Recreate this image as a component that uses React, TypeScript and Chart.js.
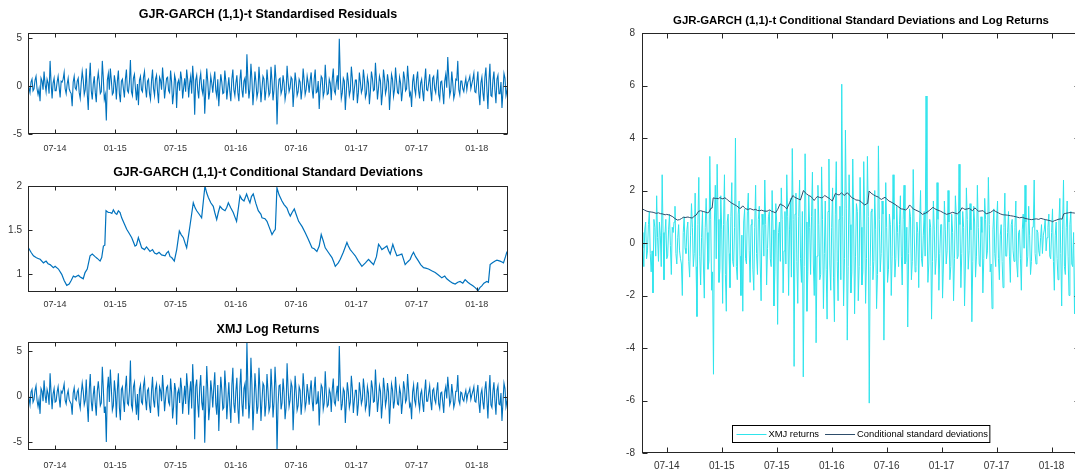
import React, { useEffect, useRef } from 'react';
import { Chart, registerables } from 'chart.js';

Chart.register(...registerables);

const FONT = '"Liberation Sans", Arial, Helvetica, sans-serif';

// time axis: months since Jan 2014; observations every ~2 trading days
const START_MONTH = 3.3;
const STEP_MONTH = 0.1;

const tickMonths = [6, 12, 18, 24, 30, 36, 42, 48];
const tickLabels = ['07-14', '01-15', '07-15', '01-16', '07-16', '01-17', '07-17', '01-18'];

const residualTicks = [-5, 0, 5];
const sigmaTicks = [1, 1.5, 2];
const returnTicks = [-5, 0, 5];
const combinedTicks = [-8, -6, -4, -2, 0, 2, 4, 6, 8];

const residuals = [
  0.3,-0.2, -0.7,0.4, 0.7,-0.5, -0.3,0.6, 1.0,-0.3, -0.9,-0.3, -1.6,0.8, 0.5,-0.4, 1.5,0.2, -0.6,0.7, 0.3,-0.8, 2.6,0.3, -1.3,0.3, 0.8,-0.5, -0.5,0.4, 1.0,-0.1, -1.2,0.5, 0.4,0.7, 1.4,-0.3, -0.8,0.2,
  0.8,-0.3, -0.6,-0.8, -2.1,0.4, 1.0,-0.2, -0.4,0.5, 0.8,-0.7, -1.3,0.3, 1.5,0.6, -0.9,-0.4, 1.8,-0.8, -2.5,0.6, 2.4,-0.5, -1.4,0.2, 1.0,-0.7, -1.7,0.5, 1.4,0.4, -0.8,-0.6, 2.6,0.8, -1.4,-0.9, -3.6,0.6,
  1.3,-0.4, 1.8,0.6, -0.9,-0.7, 1.1,0.3, -1.4,0.5, 1.6,-0.8, -1.7,0.5, 0.7,-0.3, -1.2,0.7, 1.7,-0.5, -0.7,0.4, 2.7,-0.6, -1.0,0.8, 1.2,-0.3, -1.5,0.2, -2.0,0.6, 1.0,-0.4, -0.6,0.9, 1.5,-0.2, -1.2,0.5,
  0.7,-0.8, -1.4,0.5, 1.7,-0.3, -1.0,0.7, 1.1,-0.6, -1.8,0.9, 0.6,-0.4, 1.9,0.5, -1.3,-0.2, 0.8,0.9, -0.5,-0.7, 1.6,0.4, -1.9,-0.8, 1.1,0.6, -2.3,0.3, 0.6,-0.5, 1.5,0.7, -1.3,-0.2, 0.8,-0.6, 1.7,0.7,
  -1.2,0.3, 1.0,-0.8, 2.1,0.5, -3.0,0.6, 1.1,-0.4, -1.3,0.6, 1.3,-0.3, -0.8,0.7, -2.9,-0.5, 1.8,0.5, -1.4,-0.6, 1.0,0.3, -0.7,0.6, 1.5,-0.5, -1.1,0.7, -2.1,-0.3, 1.2,0.4, -0.8,-0.7, 1.6,0.5, -1.4,-0.2,
  0.9,-0.6, -1.6,0.7, 1.7,-0.4, -1.0,0.3, 1.1,-0.7, -1.6,0.6, 1.7,-0.4, -1.2,0.5, 0.8,-0.8, 3.3,0.6, -1.3,-0.3, 2.3,0.7, -2.0,-0.5, 1.5,0.4, -1.2,-0.6, 2.0,0.4, -1.7,-0.3, 1.0,0.7, -1.5,-0.5, 1.7,0.3,
  -1.0,-0.7, 2.0,0.5, -1.5,-0.4, 2.2,0.6, -4.0,-0.5, 0.7,0.8, -0.8,-0.4, 1.1,0.3, -1.4,-0.7, 2.1,0.5, -0.6,-0.2, 0.9,0.7, -2.2,-0.5, 1.4,0.4, -1.0,-0.6, 0.7,0.4, -1.4,-0.3, 1.8,0.6, -0.9,-0.4, 1.0,0.3,
  -0.7,0.6, 1.4,-0.4, -1.3,0.7, 1.7,-0.7, -0.6,0.5, -2.4,-0.3, 1.0,0.8, -1.1,-0.6, 2.2,0.4, -0.9,-0.8, 0.7,0.3, -1.5,0.7, 1.8,-0.5, -0.8,0.3, 1.1,-0.4, 4.9,0.9, -1.3,-0.7, 0.8,0.5, -2.5,-0.6, 1.4,0.4,
  -1.0,-0.5, 2.0,0.8, -1.5,-0.3, 0.6,0.6, -1.8,-0.7, 1.4,0.4, -0.7,-0.3, 1.7,0.7, -1.2,-0.8, 0.9,0.3, -1.9,-0.5, 1.5,0.8, -0.5,-0.4, 2.4,0.6, -1.4,-0.3, 1.0,0.5, -2.0,-0.7, 1.7,0.8, -0.8,-0.3, 1.2,0.4,
  -2.5,-0.6, 1.2,0.7, -1.1,-0.4, 1.9,0.5, -0.7,-0.8, 0.9,0.3, -1.6,-0.5, 1.5,0.8, -0.5,-0.3, 2.1,0.6, -1.0,-0.7, -2.2,0.4, 1.2,-0.3, -0.9,0.7, 1.5,-0.5, -1.3,0.3, 0.7,-0.6, -1.6,0.5, 1.8,-0.4, -0.5,0.3,
  1.2,-0.5, -1.6,0.8, 1.0,-0.3, -0.7,0.6, 1.7,-0.9, -1.4,0.4, 0.5,-0.6, -1.9,0.5, 1.2,-0.2, 3.0,0.9, -1.0,-0.5, 1.5,0.3, -1.3,-0.8, 0.7,0.6, 2.6,-0.4, -0.9,0.5, 0.5,-0.3, -0.6,0.2, 0.8,-0.4, 0.4,0.6,
  1.0,-0.3, 0.2,0.7, 1.3,-0.6, -0.7,0.4, 1.5,-0.8, -2.0,0.3, 0.9,-0.7, -1.6,0.9, 1.9,-0.4, -2.4,0.5, 2.3,-1.0, -1.1,0.6, 1.5,-0.5, -1.8,0.7, 1.1,-0.8, -0.8,0.4, -2.3,-0.6, 1.3,0.8, -1.0,-0.5, 0.5,0.3,
];

const logReturns = [
  0.4,-0.2, -0.9,0.5, 0.8,-0.6, -0.3,0.7, 1.2,-0.4, -1.1,-0.3, -1.9,0.9, 0.6,-0.5, 1.8,0.2, -0.7,0.8, 0.3,-0.9, 2.6,0.4, -1.4,0.3, 0.9,-0.6, -0.5,0.5, 1.1,-0.1, -1.2,0.6, 0.4,0.8, 1.4,-0.4, -0.8,0.2,
  0.7,-0.3, -0.6,-0.8, -2.0,0.4, 1.0,-0.2, -0.4,0.5, 0.8,-0.7, -1.3,0.3, 1.5,0.6, -0.9,-0.4, 1.9,-0.9, -2.8,0.7, 2.5,-0.5, -1.6,0.2, 1.2,-0.8, -2.1,0.6, 1.7,0.4, -1.0,-0.7, 3.3,0.9, -1.8,-1.1, -5.0,0.8,
  2.2,-0.6, 3.0,0.9, -1.5,-1.0, 1.8,0.5, -2.3,0.7, 2.6,-1.2, -2.6,0.8, 1.1,-0.4, -1.7,1.0, 2.3,-0.7, -0.9,0.6, 4.0,-0.9, -1.4,1.1, 1.6,-0.5, -2.0,0.3, -2.6,0.8, 1.3,-0.6, -0.8,1.2, 1.9,-0.3, -1.5,0.7,
  0.9,-1.0, -1.8,0.6, 2.2,-0.4, -1.2,0.9, 1.4,-0.8, -2.2,1.1, 0.7,-0.5, 2.4,0.7, -1.6,-0.2, 1.0,1.2, -0.6,-0.9, 2.0,0.5, -2.4,-1.1, 1.5,0.8, -3.1,0.4, 0.8,-0.7, 2.1,0.9, -1.9,-0.3, 1.2,-0.8, 2.6,1.0,
  -2.0,0.5, 1.7,-1.3, 3.6,0.9, -4.7,1.1, 1.9,-0.7, -2.3,1.0, 2.4,-0.6, -1.5,1.2, -5.1,-0.9, 3.4,0.8, -2.6,-1.1, 1.8,0.6, -1.2,1.0, 2.7,-0.8, -2.0,1.3, -3.8,-0.5, 2.2,0.7, -1.4,-1.2, 2.9,0.9, -2.5,-0.4,
  1.6,-1.0, -2.9,1.2, 3.2,-0.8, -1.8,0.6, 2.1,-1.3, -3.0,1.1, 3.1,-0.7, -2.2,0.9, 1.4,-1.4, 6.05,1.0, -2.4,-0.6, 4.3,1.3, -3.7,-0.9, 2.6,0.7, -1.9,-1.1, 3.2,0.8, -2.7,-0.5, 1.5,1.2, -2.2,-0.9, 2.5,0.6,
  -1.6,-1.1, 3.1,0.8, -2.3,-0.6, 3.3,1.0, -6.1,-0.9, 1.2,1.3, -1.4,-0.7, 2.0,0.5, -2.5,-1.2, 3.7,0.9, -1.1,-0.4, 1.6,1.1, -3.7,-0.8, 2.3,0.6, -1.5,-1.0, 1.1,0.7, -2.0,-0.5, 2.6,0.9, -1.3,-0.6, 1.4,0.4,
  -0.9,0.7, 1.8,-0.5, -1.6,0.9, 2.2,-0.8, -0.7,0.6, -3.2,-0.4, 1.3,1.0, -1.4,-0.7, 2.8,0.5, -1.1,-0.9, 0.8,0.4, -1.7,0.8, 2.0,-0.6, -0.9,0.3, 1.2,-0.5, 5.6,1.1, -1.5,-0.8, 0.9,0.6, -2.9,-0.7, 1.6,0.5,
  -1.2,-0.6, 2.3,0.9, -1.8,-0.4, 0.7,0.7, -2.1,-0.8, 1.6,0.5, -0.8,-0.3, 2.0,0.8, -1.4,-0.9, 1.1,0.4, -2.2,-0.6, 1.8,1.0, -0.6,-0.5, 3.0,0.7, -1.7,-0.4, 1.2,0.6, -2.4,-0.8, 2.1,0.9, -1.0,-0.3, 1.5,0.5,
  -3.0,-0.7, 1.4,0.8, -1.3,-0.5, 2.2,0.6, -0.8,-0.9, 1.0,0.4, -1.9,-0.6, 1.7,0.9, -0.6,-0.3, 2.5,0.7, -1.1,-0.8, -2.5,0.5, 1.3,-0.4, -0.9,0.8, 1.6,-0.6, -1.4,0.3, 0.7,-0.7, -1.7,0.6, 1.9,-0.5, -0.5,0.4,
  1.2,-0.5, -1.5,0.7, 0.9,-0.3, -0.7,0.6, 1.6,-0.8, -1.3,0.4, 0.5,-0.6, -1.8,0.5, 1.1,-0.2, 2.2,0.8, -0.9,-0.5, 1.4,0.3, -1.2,-0.7, 0.6,0.6, 2.4,-0.4, -0.8,0.5, 0.4,-0.3, -0.5,0.2, 0.7,-0.4, 0.3,0.5,
  0.9,-0.3, 0.2,0.6, 1.1,-0.5, -0.6,0.4, 1.3,-0.7, -1.8,0.3, 0.8,-0.6, -1.4,0.8, 1.7,-0.4, -2.4,0.5, 2.4,-0.9, -1.2,0.6, 1.6,-0.5, -2.0,0.7, 1.2,-0.8, -0.9,0.4, -2.7,-0.6, 1.5,0.9, -1.1,-0.5, 0.6,0.3,
];

const sigmaMonths = [
  3.34, 3.6, 3.84, 4.1, 4.3, 4.51, 4.84, 5.1, 5.3, 5.5, 5.83, 6.0, 6.33, 6.66, 6.9, 7.16, 7.4, 7.6, 7.82, 8.0,
  8.32, 8.5, 8.65, 8.8, 8.98, 9.2, 9.48, 9.7, 9.98, 10.2, 10.48, 10.64, 10.81, 10.95, 11.07, 11.3, 11.47, 11.65, 11.8, 12.0,
  12.14, 12.3, 12.47, 12.63, 12.9, 13.13, 13.4, 13.63, 13.96, 14.1, 14.29, 14.45, 14.62, 14.9, 15.1, 15.45, 15.7, 15.9, 16.12, 16.35,
  16.6, 16.95, 17.1, 17.28, 17.45, 17.61, 17.87, 18.0, 18.11, 18.37, 18.55, 18.77, 18.95, 19.1, 19.3, 19.43, 19.76, 19.95, 20.1, 20.35,
  20.59, 20.92, 21.1, 21.26, 21.5, 21.75, 21.9, 22.09, 22.25, 22.42, 22.65, 22.92, 23.1, 23.25, 23.5, 23.74, 23.9, 24.07, 24.25, 24.41,
  24.6, 24.81, 25.07, 25.25, 25.4, 25.55, 25.73, 26.0, 26.23, 26.5, 26.6, 26.9, 27.1, 27.3, 27.6, 27.8, 27.93, 28.09, 28.3, 28.59,
  28.8, 29.09, 29.25, 29.42, 29.6, 29.82, 30.0, 30.25, 30.6, 30.91, 31.2, 31.58, 31.8, 32.07, 32.3, 32.5, 32.7, 32.9, 33.2, 33.57,
  33.75, 33.9, 34.2, 34.4, 34.7, 35.06, 35.2, 35.39, 35.6, 35.89, 36.2, 36.55, 36.9, 37.21, 37.45, 37.71, 38.0, 38.21, 38.4, 38.54,
  38.8, 39.04, 39.2, 39.37, 39.63, 39.8, 40.03, 40.3, 40.53, 40.7, 40.86, 41.1, 41.36, 41.5, 41.69, 41.9, 42.19, 42.4, 42.69, 42.9,
  43.18, 43.5, 43.85, 44.2, 44.51, 44.8, 45.0, 45.34, 45.6, 45.84, 46.1, 46.33, 46.6, 46.83, 47.1, 47.33, 47.6, 47.83, 48.0, 48.09,
  48.3, 48.49, 48.7, 48.99, 49.15, 49.32, 49.55, 49.82, 50.0, 50.31, 50.5, 50.65, 50.85, 50.98, 51.1,
];

const sigmaValues = [
  1.30, 1.25, 1.21, 1.19, 1.18, 1.17, 1.13, 1.15, 1.12, 1.11, 1.075, 1.09, 1.06, 1.00, 0.93, 0.875, 0.89, 0.93, 0.98, 0.97,
  0.99, 0.97, 0.96, 0.95, 1.02, 1.06, 1.21, 1.23, 1.20, 1.18, 1.15, 1.19, 1.32, 1.33, 1.72, 1.70, 1.70, 1.69, 1.73, 1.69,
  1.68, 1.72, 1.70, 1.64, 1.57, 1.51, 1.46, 1.415, 1.32, 1.33, 1.415, 1.36, 1.30, 1.28, 1.31, 1.26, 1.28, 1.24, 1.23, 1.25,
  1.22, 1.21, 1.24, 1.26, 1.20, 1.19, 1.15, 1.22, 1.28, 1.49, 1.45, 1.415, 1.35, 1.30, 1.45, 1.55, 1.81, 1.75, 1.72, 1.68,
  1.64, 2.00, 1.92, 1.87, 1.81, 1.77, 1.70, 1.62, 1.70, 1.77, 1.74, 1.72, 1.76, 1.81, 1.75, 1.70, 1.65, 1.60, 1.75, 1.89,
  1.85, 1.83, 1.91, 1.85, 1.81, 1.88, 1.91, 1.80, 1.72, 1.68, 1.64, 1.63, 1.60, 1.54, 1.45, 1.49, 1.51, 1.98, 1.90, 1.83,
  1.79, 1.75, 1.70, 1.66, 1.70, 1.74, 1.68, 1.60, 1.54, 1.47, 1.40, 1.30, 1.29, 1.26, 1.32, 1.45, 1.38, 1.30, 1.25, 1.19,
  1.14, 1.09, 1.13, 1.17, 1.25, 1.36, 1.32, 1.28, 1.25, 1.21, 1.15, 1.09, 1.13, 1.17, 1.14, 1.11, 1.20, 1.34, 1.31, 1.28,
  1.30, 1.32, 1.27, 1.23, 1.34, 1.28, 1.21, 1.22, 1.23, 1.17, 1.11, 1.14, 1.17, 1.21, 1.25, 1.20, 1.15, 1.11, 1.075, 1.07,
  1.06, 1.04, 1.02, 0.99, 0.96, 0.98, 0.95, 0.92, 0.90, 0.89, 0.91, 0.92, 0.90, 0.94, 0.91, 0.89, 0.87, 0.85, 0.83, 0.81,
  0.85, 0.87, 0.90, 0.92, 0.91, 1.11, 1.13, 1.15, 1.16, 1.15, 1.14, 1.13, 1.20, 1.25, 1.24,
];

const BLUE = '#0072BD';
const CYAN = '#2FE4EC';
const DARK = '#2E4D6B';
const TEXT = '#333333';
const BOX = '#262626';

const dailyPoints = (vals: number[]) => vals.map((v, i) => ({ x: START_MONTH + STEP_MONTH * i, y: v }));
const sigmaPoints = () => sigmaMonths.map((m, i) => ({ x: m, y: sigmaValues[i] }));

const framePlugin = {
  id: 'frame',
  afterDatasetsDraw(chart: any, _args: any, opts: any) {
    const { ctx, chartArea: a, scales } = chart;
    ctx.save();
    ctx.strokeStyle = BOX;
    ctx.lineWidth = 1;
    const L = Math.round(a.left) + 0.5;
    const R = Math.round(a.right) - 0.5;
    const T = Math.round(a.top) + 0.5;
    const B = Math.round(a.bottom) - 0.5;
    ctx.strokeRect(L, T, R - L, B - T);
    const tl = opts.tickLen;
    ctx.beginPath();
    scales.x.ticks.forEach((t: any) => {
      const px = Math.round(scales.x.getPixelForValue(t.value)) + 0.5;
      ctx.moveTo(px, B); ctx.lineTo(px, B - tl);
      ctx.moveTo(px, T); ctx.lineTo(px, T + tl);
    });
    scales.y.ticks.forEach((t: any) => {
      const py = Math.round(scales.y.getPixelForValue(t.value)) + 0.5;
      ctx.moveTo(L, py); ctx.lineTo(L + tl, py);
      ctx.moveTo(R, py); ctx.lineTo(R - tl, py);
    });
    ctx.stroke();

    ctx.fillStyle = '#000';
    ctx.font = `bold ${opts.titleSize}px ${FONT}`;
    ctx.textAlign = 'center';
    ctx.textBaseline = 'middle';
    ctx.fillText(opts.title, (a.left + a.right) / 2, opts.titleY);

    if (opts.legend) {
      const items = chart.data.datasets.map((d: any) => ({ label: d.label, color: d.borderColor }));
      ctx.font = `${opts.legendSize}px ${FONT}`;
      const padL = 4, lineLen = 30, gap = 2, itemGap = 6, padR = 2, h = 17;
      let w = padL + padR;
      items.forEach((it: any, i: number) => {
        w += lineLen + gap + ctx.measureText(it.label).width + (i ? itemGap : 0);
      });
      const x0 = Math.round((a.left + a.right) / 2 - w / 2) + 0.5;
      const y0 = Math.round(a.bottom - opts.legendGap - h) + 0.5;
      ctx.fillStyle = '#fff';
      ctx.fillRect(x0, y0, w, h);
      ctx.strokeStyle = '#000';
      ctx.lineWidth = 1;
      ctx.strokeRect(x0, y0, w, h);
      let x = x0 + padL;
      const cy = Math.round(y0 + h / 2) + 0.5;
      items.forEach((it: any, i: number) => {
        if (i) x += itemGap;
        ctx.strokeStyle = it.color;
        ctx.beginPath();
        ctx.moveTo(x, cy); ctx.lineTo(x + lineLen, cy);
        ctx.stroke();
        x += lineLen + gap;
        ctx.fillStyle = '#000';
        ctx.textAlign = 'left';
        ctx.textBaseline = 'middle';
        ctx.fillText(it.label, x, cy);
        x += ctx.measureText(it.label).width;
      });
    }
    ctx.restore();
  },
};

type PanelSpec = {
  left: number; top: number; width: number; height: number;
  padTop: number; padRight: number; yAxisWidth: number; xAxisHeight: number;
  yMin: number; yMax: number; yTicks: number[];
  title: string; titleY: number; titleSize: number;
  xFont: number; yFont: number; xPad: number; yPad: number; tickLen: number;
  datasets: any[]; legend?: boolean; legendSize?: number; legendGap?: number;
};

function makeConfig(p: PanelSpec): any {
  const zeroPad = (s: any) => { s.paddingLeft = 0; s.paddingRight = 0; s.paddingTop = 0; s.paddingBottom = 0; };
  return {
    type: 'line',
    data: { datasets: p.datasets },
    plugins: [framePlugin],
    options: {
      animation: false,
      responsive: false,
      events: [],
      layout: { padding: { top: p.padTop, right: p.padRight, left: 0, bottom: 0 } },
      elements: { point: { radius: 0 }, line: { tension: 0 } },
      plugins: {
        legend: { display: false },
        tooltip: { enabled: false },
        title: { display: false },
        frame: {
          title: p.title, titleY: p.titleY, titleSize: p.titleSize, tickLen: p.tickLen,
          legend: !!p.legend, legendSize: p.legendSize, legendGap: p.legendGap,
        },
      },
      scales: {
        x: {
          type: 'linear',
          min: START_MONTH,
          max: 51.1,
          grid: { display: false, drawTicks: false },
          border: { display: false },
          afterBuildTicks: (s: any) => { s.ticks = tickMonths.map((v) => ({ value: v })); },
          afterFit: (s: any) => { s.height = p.xAxisHeight; zeroPad(s); },
          ticks: {
            autoSkip: false, maxRotation: 0, minRotation: 0, padding: p.xPad, color: TEXT,
            font: { family: FONT, size: p.xFont },
            callback: (v: number) => tickLabels[tickMonths.indexOf(v)],
          },
        },
        y: {
          type: 'linear',
          min: p.yMin,
          max: p.yMax,
          grid: { display: false, drawTicks: false },
          border: { display: false },
          afterBuildTicks: (s: any) => { s.ticks = p.yTicks.map((v) => ({ value: v })); },
          afterFit: (s: any) => { s.width = p.yAxisWidth; zeroPad(s); },
          ticks: {
            autoSkip: false, padding: p.yPad, color: TEXT,
            font: { family: FONT, size: p.yFont },
            callback: (v: number) => String(v),
          },
        },
      },
    },
  };
}

function Panel({ spec }: { spec: PanelSpec }) {
  const ref = useRef<HTMLCanvasElement | null>(null);
  useEffect(() => {
    const chart = new Chart(ref.current as HTMLCanvasElement, makeConfig(spec));
    return () => chart.destroy();
  }, []);
  return (
    <canvas
      ref={ref}
      width={spec.width}
      height={spec.height}
      style={{ position: 'absolute', left: spec.left, top: spec.top, width: spec.width, height: spec.height }}
    />
  );
}

const line = (label: string, data: any[], color: string, width: number, order = 0) => ({
  label, data, borderColor: color, borderWidth: width, pointRadius: 0, fill: false, order,
});

const panels: PanelSpec[] = [
  {
    left: 0, top: 0, width: 520, height: 160, padTop: 33, padRight: 12, yAxisWidth: 28, xAxisHeight: 26,
    yMin: -5, yMax: 5.5, yTicks: residualTicks,
    title: 'GJR-GARCH (1,1)-t Standardised Residuals', titleY: 15, titleSize: 12.5,
    xFont: 9, yFont: 10, xPad: 9, yPad: 6, tickLen: 4,
    datasets: [line('Standardised residuals', dailyPoints(residuals), BLUE, 1.1)],
  },
  {
    left: 0, top: 155, width: 520, height: 160, padTop: 31, padRight: 12, yAxisWidth: 28, xAxisHeight: 23,
    yMin: 0.8, yMax: 2, yTicks: sigmaTicks,
    title: 'GJR-GARCH (1,1)-t Conditional Standard Deviations', titleY: 18, titleSize: 12.5,
    xFont: 9, yFont: 10, xPad: 7, yPad: 6, tickLen: 4,
    datasets: [line('Conditional standard deviations', sigmaPoints(), BLUE, 1.2)],
  },
  {
    left: 0, top: 313, width: 520, height: 160, padTop: 29, padRight: 12, yAxisWidth: 28, xAxisHeight: 23,
    yMin: -5.9, yMax: 6.05, yTicks: returnTicks,
    title: 'XMJ Log Returns', titleY: 17, titleSize: 12.5,
    xFont: 9, yFont: 10, xPad: 10, yPad: 6, tickLen: 4,
    datasets: [line('XMJ log returns', dailyPoints(logReturns), BLUE, 1.1)],
  },
  {
    left: 600, top: 0, width: 490, height: 473, padTop: 33, padRight: 10, yAxisWidth: 42, xAxisHeight: 20,
    yMin: -8, yMax: 8, yTicks: combinedTicks,
    title: 'GJR-GARCH (1,1)-t Conditional Standard Deviations and Log Returns', titleY: 21, titleSize: 11.4,
    xFont: 10, yFont: 10, xPad: 7, yPad: 7, tickLen: 5,
    legend: true, legendSize: 9.4, legendGap: 11,
    datasets: [
      line('XMJ returns', dailyPoints(logReturns), CYAN, 1, 2),
      line('Conditional standard deviations', sigmaPoints(), DARK, 1, 1),
    ],
  },
];

export default function App() {
  return (
    <div style={{ position: 'absolute', left: 0, top: 0, width: 1075, height: 473, overflow: 'hidden', background: '#fff' }}>
      {panels.map((p, i) => <Panel key={i} spec={p} />)}
    </div>
  );
}
